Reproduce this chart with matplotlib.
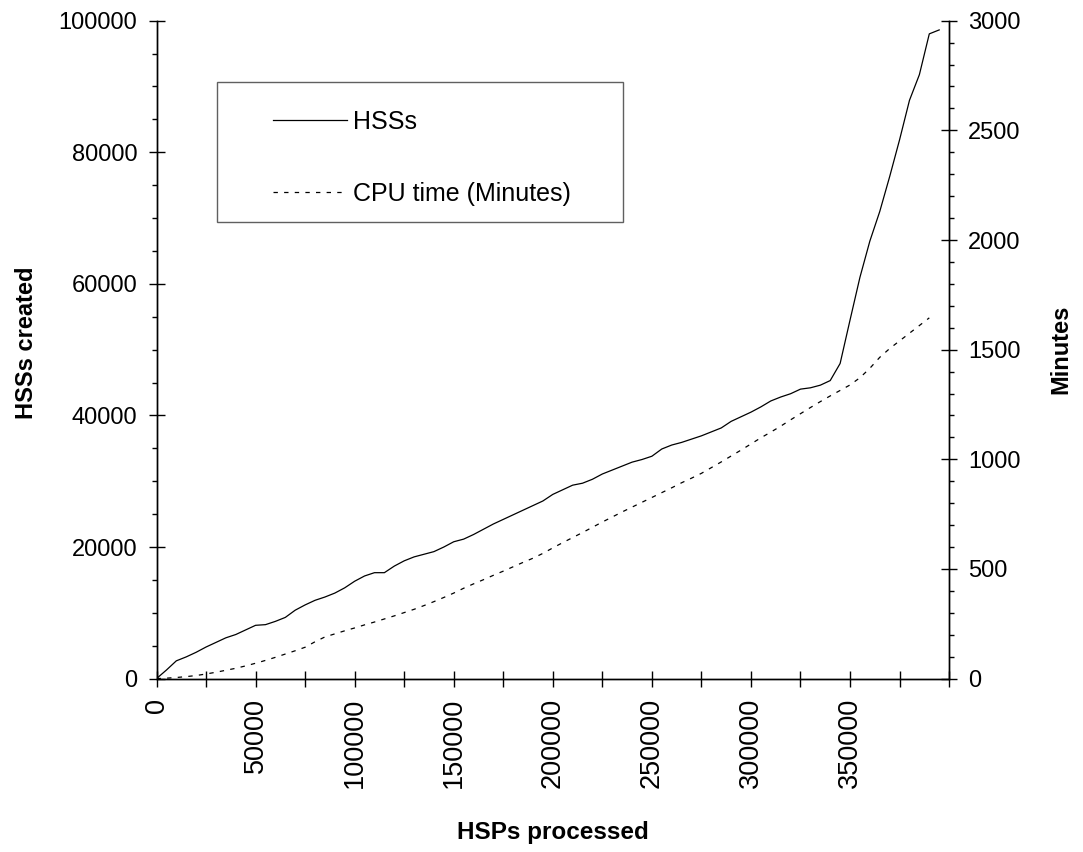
import matplotlib
matplotlib.use('Agg')
import matplotlib.pyplot as plt
from matplotlib.patches import Rectangle
from matplotlib.ticker import MultipleLocator

plt.rcParams['font.family'] = ['Liberation Sans', 'DejaVu Sans']

# HSPs processed (x categories)
hsps = [0, 5000, 10000, 15000, 20000, 25000, 30000, 35000, 40000, 45000,
        50000, 55000, 60000, 65000, 70000, 75000, 80000, 85000, 90000, 95000,
        100000, 105000, 110000, 115000, 120000, 125000, 130000, 135000, 140000, 145000,
        150000, 155000, 160000, 165000, 170000, 175000, 180000, 185000, 190000, 195000,
        200000, 205000, 210000, 215000, 220000, 225000, 230000, 235000, 240000, 245000,
        250000, 255000, 260000, 265000, 270000, 275000, 280000, 285000, 290000, 295000,
        300000, 305000, 310000, 315000, 320000, 325000, 330000, 335000, 340000, 345000,
        350000, 355000, 360000, 365000, 370000, 375000, 380000, 385000, 390000, 395000]

# HSSs created (left axis)
hss = [0, 1300, 2700, 3300, 4000, 4800, 5500, 6200, 6700, 7400,
       8100, 8200, 8700, 9300, 10400, 11200, 11900, 12400, 13000, 13800,
       14800, 15600, 16100, 16100, 17100, 17900, 18500, 18900, 19300, 20000,
       20800, 21200, 21900, 22700, 23500, 24200, 24900, 25600, 26300, 27000,
       28000, 28700, 29400, 29700, 30300, 31100, 31700, 32300, 32900, 33300,
       33800, 34900, 35500, 35900, 36400, 36900, 37500, 38100, 39100, 39800,
       40500, 41300, 42200, 42800, 43300, 44000, 44200, 44600, 45300, 47900,
       54500, 61000, 66500, 71000, 76300, 81900, 87900, 91800, 98000, 98600]

# CPU time in minutes (right axis)
cpu = [0, 2, 5, 9, 14, 21, 29, 38, 47, 58,
       70, 83, 97, 112, 127, 143, 168, 190, 204, 218,
       231, 245, 258, 272, 286, 301, 316, 333, 351, 370,
       390, 412, 432, 451, 471, 490, 510, 530, 549, 571,
       596, 620, 643, 666, 690, 714, 737, 760, 782, 804,
       826, 848, 870, 893, 914, 936, 962, 988, 1015, 1042,
       1070, 1098, 1124, 1151, 1180, 1208, 1236, 1263, 1289, 1314,
       1339, 1372, 1415, 1465, 1505, 1540, 1575, 1610, 1645]

x_ticks = [0, 25000, 50000, 75000, 100000, 125000, 150000, 175000, 200000,
           225000, 250000, 275000, 300000, 325000, 350000, 375000, 400000]
x_labels = ['0', '', '50000', '', '100000', '', '150000', '', '200000',
            '', '250000', '', '300000', '', '350000', '', '']

fig = plt.figure(figsize=(10.83, 8.52), dpi=100)
ax = fig.add_axes([0.14451, 0.20352, 0.73186, 0.77218])
ax2 = ax.twinx()

l1, = ax.plot(hsps, hss, color='black', lw=0.9, label='HSSs')
l2, = ax2.plot(hsps[:len(cpu)], cpu, color='black', lw=0.9,
               linestyle=(0, (3.5, 5)), label='CPU time (Minutes)')

ax.set_xlim(0, 400000)
ax.set_ylim(0, 100000)
ax2.set_ylim(0, 3000)

for a in (ax, ax2):
    a.spines['top'].set_visible(False)
    for s in a.spines.values():
        s.set_linewidth(1.0)
        s.set_color('black')

ax.set_xticks(x_ticks)
ax.set_xticklabels(x_labels, rotation=90)
ax.yaxis.set_major_locator(MultipleLocator(20000))
ax.yaxis.set_minor_locator(MultipleLocator(5000))
ax2.yaxis.set_major_locator(MultipleLocator(500))
ax2.yaxis.set_minor_locator(MultipleLocator(100))

ax.tick_params(axis='both', which='major', direction='inout', length=11.5,
               width=1, pad=8, labelsize=17)
ax.tick_params(axis='x', labelsize=19.5)
ax.tick_params(axis='y', which='minor', direction='out', length=3.8, width=1)
ax2.tick_params(axis='y', which='major', direction='inout', length=11.5,
                width=1, pad=8, labelsize=17)
ax2.tick_params(axis='y', which='minor', direction='out', length=3.8, width=1)

ax.set_xlabel('HSPs processed', fontsize=17.5, fontweight='bold')
ax.set_ylabel('HSSs created', fontsize=17, fontweight='bold')
ax2.set_ylabel('Minutes', fontsize=17, fontweight='bold')
ax.xaxis.set_label_coords(0.5, -0.2438)
ax.xaxis.label.set_verticalalignment('baseline')
ax.yaxis.set_label_coords(-0.1495, 0.51)
ax2.yaxis.set_label_coords(1.127, 0.5)

# legend frame and legend
ax2.add_patch(Rectangle((0.076, 0.6945), 0.5122, 0.2128, transform=ax2.transAxes,
                        fill=True, facecolor='white', edgecolor='#606060', lw=1.0,
                        zorder=5))
leg = ax2.legend(handles=[l1, l2], loc='upper left', bbox_to_anchor=(0.1466, 0.8643),
                 frameon=False, fontsize=18, borderpad=0, handlelength=2.96,
                 handletextpad=0.25, labelspacing=1.92, borderaxespad=0)
leg.set_zorder(6)

fig.savefig('out.png', dpi=100)
